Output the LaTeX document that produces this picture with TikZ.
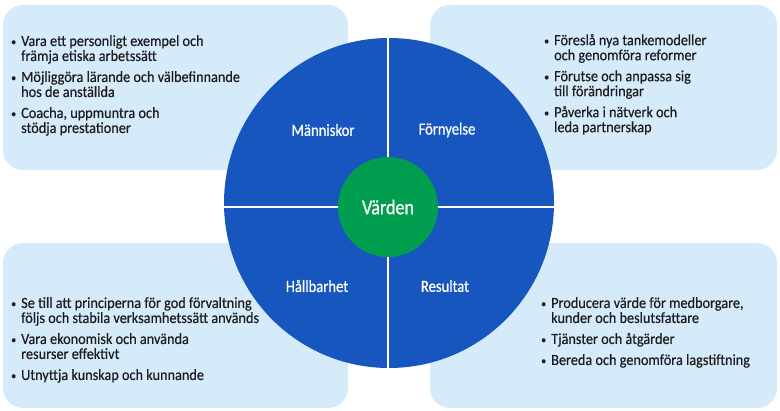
\documentclass[tikz,border=0pt]{standalone}
\usepackage{fontspec}
\setmainfont{Carlito}[FakeStretch=0.86]
\newfontfamily\pointfont{Carlito}[FakeStretch=0.92,FakeBold=0.4]
\newfontfamily\labelfont{Carlito}[FakeStretch=0.86,FakeBold=0.7]
\usepackage{tikz}
\usetikzlibrary{positioning,calc}

\definecolor{ringblue}{RGB}{22,86,190}
\definecolor{boxblue}{RGB}{214,235,250}
\definecolor{hubgreen}{RGB}{0,158,78}
\definecolor{inktext}{RGB}{30,28,30}

\newcommand{\punkt}{\makebox[10pt][l]{\raisebox{0.6pt}{\scalebox{0.7}{\textbullet}}}}
\newcommand{\fort}{\hspace*{10pt}}

\begin{document}
\begin{tikzpicture}[
    x=1pt,y=-1pt,
    panel/.style={fill=boxblue,rounded corners=20pt,minimum height=165pt,
      inner sep=0pt},
    points/.style={anchor=north west,align=left,inner sep=0pt,text=inktext,
      font=\pointfont\fontsize{15.5}{15}\selectfont},
    quarter/.style={text=white,font=\labelfont\fontsize{17}{17}\selectfont},
    divider/.style={white,line width=2pt}
  ]
    \useasboundingbox (0,0) rectangle (780,411);

    % four light panels behind the wheel
    \node[panel,minimum width=345pt] (nw) at (175.5,87.5) {};
    \node[panel,minimum width=347pt] (ne) at (603.5,87.5) {};
    \node[panel,minimum width=345pt] (sw) at (175.5,325.5) {};
    \node[panel,minimum width=347pt] (se) at (603.5,325.5) {};

    % the wheel, split in quarters, with the core value in the middle
    \node[circle,fill=ringblue,minimum size=330pt,inner sep=0pt] (ring)
      at (389,203) {};
    \coordinate (mid) at (388,207);
    \draw[divider] (mid -| ring.west) -- (mid -| ring.east);
    \draw[divider] (mid |- ring.north) -- (mid |- ring.south);
    \node[circle,fill=hubgreen,minimum size=100pt,inner sep=0pt,text=white,
      font=\labelfont\fontsize{21}{21}\selectfont] (hub) at (mid) {Värden};

    \node[quarter] (manniskor) at (323,130) {Människor};
    \node[quarter] (fornyelse) at (447,130) {Förnyelse};
    \node[quarter] (hallbarhet) at (317,286) {Hållbarhet};
    \node[quarter] (resultat) at (445,286) {Resultat};

    \node[points] (nwtext) at (11,35)
      {\punkt Vara ett personligt exempel och\\
       \fort främja etiska arbetssätt\\[6pt]
       \punkt Möjliggöra lärande och välbefinnande\\
       \fort hos de anställda\\[6pt]
       \punkt Coacha, uppmuntra och\\
       \fort stödja prestationer};
    \node[points] (netext) at (544,34)
      {\punkt Föreslå nya tankemodeller\\
       \fort och genomföra reformer\\[6pt]
       \punkt Förutse och anpassa sig\\
       \fort till förändringar\\[6pt]
       \punkt Påverka i nätverk och\\
       \fort leda partnerskap};
    \node[points] (swtext) at (11,297)
      {\punkt Se till att principerna för god förvaltning\\
       \fort följs och stabila verksamhetssätt används\\[6pt]
       \punkt Vara ekonomisk och använda\\
       \fort resurser effektivt\\[6pt]
       \punkt Utnyttja kunskap och kunnande};
    \node[points] (setext) at (541,297)
      {\punkt Producera värde för medborgare,\\
       \fort kunder och beslutsfattare\\[6pt]
       \punkt Tjänster och åtgärder\\[6pt]
       \punkt Bereda och genomföra lagstiftning};
\end{tikzpicture}
\end{document}
